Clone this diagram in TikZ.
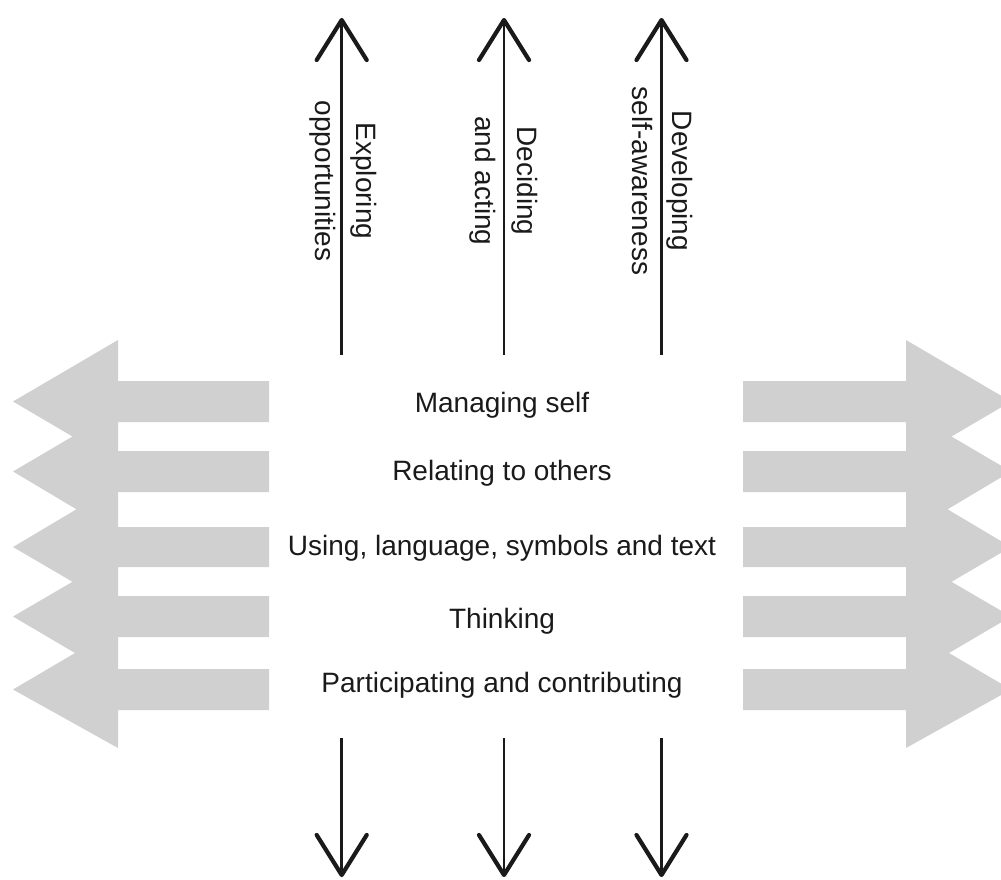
\documentclass[tikz,border=0pt]{standalone}
\usepackage{fontspec}
\setmainfont{Liberation Sans}
\usetikzlibrary{calc}
\definecolor{bandgray}{RGB}{208,208,208}
\definecolor{inkblack}{RGB}{26,26,26}
\begin{document}
\begin{tikzpicture}[x=1pt,y=-1pt,
  shaft/.style={draw=inkblack,line width=2.6pt},
  barb/.style={draw=inkblack,line width=4.2pt,line cap=round,line join=round},
  band/.style={fill=bandgray,draw=none},
  rowtext/.style={font=\fontsize{28}{34}\selectfont,text=inkblack,inner sep=0pt,anchor=base},
  vlab/.style={font=\fontsize{28}{34}\selectfont,text=inkblack,inner sep=0pt,anchor=base,rotate=-90}]
\useasboundingbox (0,0) rectangle (1001,879);
\clip (0,0) rectangle (1001,879);

% left grey arrow block
\path[band] (118,340) -- (13,401.5) -- (72.5,436.5) -- (13,471.5) -- (76.5,509.3) -- (13,547)
  -- (72.5,581.8) -- (13,616.5) -- (75,653) -- (13,689.5) -- (118,748)
  -- (118,710) -- (269,710) -- (269,669) -- (118,669) -- (118,637) -- (269,637)
  -- (269,596) -- (118,596) -- (118,567) -- (269,567) -- (269,527) -- (118,527)
  -- (118,492) -- (269,492) -- (269,451) -- (118,451) -- (118,422) -- (269,422)
  -- (269,381) -- (118,381) -- cycle;

% right grey arrow block
\path[band] (906,340) -- (1011,401.5) -- (951.5,436.5) -- (1011,471.5) -- (947.5,509.3) -- (1011,547)
  -- (951.5,581.8) -- (1011,616.5) -- (949,653) -- (1011,689.5) -- (906,748)
  -- (906,710) -- (743,710) -- (743,669) -- (906,669) -- (906,637) -- (743,637)
  -- (743,596) -- (906,596) -- (906,567) -- (743,567) -- (743,527) -- (906,527)
  -- (906,492) -- (743,492) -- (743,451) -- (906,451) -- (906,422) -- (743,422)
  -- (743,381) -- (906,381) -- cycle;

% row texts
\node[rowtext] (r1) at (502,412) {Managing self};
\node[rowtext] (r2) at (502,480) {Relating to others};
\node[rowtext] (r3) at (502,555) {Using, language, symbols and text};
\node[rowtext] (r4) at (502,628) {Thinking};
\node[rowtext] (r5) at (502,692) {Participating and contributing};

% vertical arrows: coordinates
\coordinate (ua1) at (341.7,355); \coordinate (ub1) at (341.7,20);
\coordinate (ua2) at (504,355);   \coordinate (ub2) at (504,20);
\coordinate (ua3) at (661.5,355); \coordinate (ub3) at (661.5,20);
\coordinate (da1) at (341.7,738); \coordinate (db1) at (341.7,875);
\coordinate (da2) at (504,738);   \coordinate (db2) at (504,875);
\coordinate (da3) at (661.5,738); \coordinate (db3) at (661.5,875);

\foreach \i in {1,2,3}{
  \draw[shaft] (ua\i) -- (ub\i);
  \draw[barb] ($(ub\i)+(-25,40)$) -- (ub\i) -- ($(ub\i)+(25,40)$);
  \draw[shaft] (da\i) -- (db\i);
  \draw[barb] ($(db\i)+(-25,-40)$) -- (db\i) -- ($(db\i)+(25,-40)$);
}

% vertical labels
\node[vlab] (l1a) at (356,181) {Exploring};
\node[vlab] (l1b) at (315,181) {opportunities};
\node[vlab] (l2a) at (517,181) {Deciding};
\node[vlab] (l2b) at (475,181) {and acting};
\node[vlab] (l3a) at (672,181) {Developing};
\node[vlab] (l3b) at (632,181) {self-awareness};
\end{tikzpicture}
\end{document}
